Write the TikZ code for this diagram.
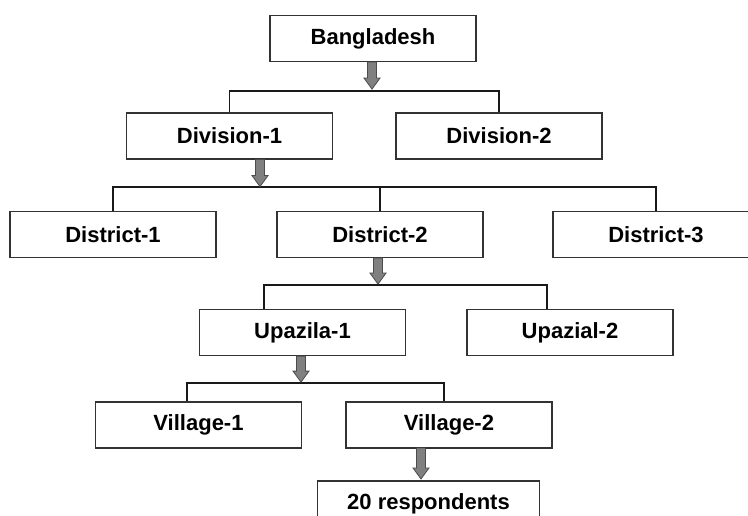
\documentclass[tikz,border=0pt]{standalone}
\usepackage{fontspec}
\setmainfont{Liberation Sans}
\begin{document}
\begin{tikzpicture}[x=1pt,y=-1pt,
  box/.style={draw=black!80, line width=1.2pt, fill=white, minimum width=206pt,
    minimum height=46pt, inner sep=0pt, font=\fontsize{22}{26}\selectfont\bfseries},
  link/.style={draw=black!90, line width=1.8pt},
  arrowfill/.style={fill=black!50, draw=black!70, line width=0.8pt, line join=miter},
  drop/.pic={\filldraw[arrowfill] (-4.5,0) -- (-4.5,#1-11) -- (-8,#1-11) -- (0,#1)
     -- (8,#1-11) -- (4.5,#1-11) -- (4.5,0) -- cycle;}
]
\useasboundingbox (0,0) rectangle (748,516);
\clip (0,0) rectangle (748,516);

% boxes
\node[box] (bd)   at (373,38.5) {Bangladesh};
\node[box] (div1) at (229.5,136) {Division-1};
\node[box] (div2) at (499,136) {Division-2};
\node[box] (dis1) at (113,234.5) {District-1};
\node[box] (dis2) at (380,234.5) {District-2};
\node[box] (dis3) at (656,234.5) {District-3};
\node[box] (up1)  at (302.5,332.5) {Upazila-1};
\node[box] (up2)  at (570,332.5) {Upazial-2};
\node[box] (vil1) at (198.5,425) {Village-1};
\node[box] (vil2) at (449,425) {Village-2};
\node[box, minimum width=222pt] (resp) at (428.5,504) {20 respondents};

% bracket junctions
\coordinate (h1) at (372,91);
\coordinate (h2) at (380,187);
\coordinate (h3) at (378,285);
\coordinate (h4) at (301,383);
\coordinate (x3a) at (264,0);
\coordinate (x3b) at (547,0);
\coordinate (x4a) at (187,0);
\coordinate (x4b) at (444,0);
\coordinate (a2) at (260,0);

% connectors
\draw[link] (div1.north) |- (h1) -| (div2.north);
\draw[link] (dis1.north) |- (h2) -| (dis3.north);
\draw[link] (h2) -- (dis2.north);
\draw[link] (up1.north -| x3a) |- (h3) -| (up2.north -| x3b);
\draw[link] (vil1.north -| x4a) |- (h4) -| (vil2.north -| x4b);

% downward arrows
\pic at (bd.south -| h1) {drop=27};
\pic at (div1.south -| a2) {drop=27};
\pic at (dis2.south -| h3) {drop=26};
\pic at (up1.south -| h4) {drop=26};
\pic at (421,448) {drop=31};
\end{tikzpicture}
\end{document}
